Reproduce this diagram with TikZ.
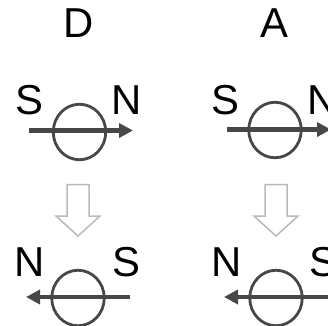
\documentclass[tikz,border=0pt]{standalone}
\usepackage{fontspec}
\setmainfont{Liberation Sans}
\usetikzlibrary{arrows.meta,shapes.geometric}
\tikzset{
  x=1bp,y=-1bp,
  lab/.style={inner sep=0pt,text=black,font=\fontsize{42}{42}\selectfont,anchor=base},
  ring/.style={ellipse,draw=black!72,line width=2.8bp,minimum width=52.5bp,minimum height=55.5bp,inner sep=0pt},
  needle/.style={draw=black!72,line width=4.6bp,-{Triangle[length=14bp,width=14bp]}},
  hollow/.style={draw=black!27,line width=1.5bp,fill=white,line join=miter}
}
\begin{document}
\begin{tikzpicture}
\useasboundingbox (0,0) rectangle (328,326);
\clip (0,0) rectangle (328,326);
% column titles
\node[lab] (d) at (79,37.5) {D};
\node[lab] (a) at (274.5,37.5) {A};
% top row
\node[ring] (c1) at (79.5,132) {};
\node[ring] (c2) at (275,130) {};
\node[lab] (s1) at (29.5,114.5) {S};
\node[lab] (n1) at (126.5,114.5) {N};
\node[lab] (s2) at (225.5,114.5) {S};
\node[lab] (n2) at (323,114.5) {N};
\coordinate (t1a) at (29.3,130.5);
\coordinate (t1b) at (133,130.5);
\coordinate (t2a) at (226.7,129.5);
\coordinate (t2b) at (331,129.5);
\draw[needle] (t1a) -- (t1b);
\draw[needle] (t2a) -- (t2b);
% hollow arrows
\draw[hollow] (67,184.5) -- (89,184.5) -- (89,216) -- (100,216) -- (78,236) -- (56,216) -- (67,216) -- cycle;
\draw[hollow] (265,184.5) -- (287,184.5) -- (287,216) -- (298,216) -- (276,236) -- (254,216) -- (265,216) -- cycle;
% bottom row
\node[ring] (c3) at (78,298) {};
\node[ring] (c4) at (276,298) {};
\node[lab] (n3) at (30,276.5) {N};
\node[lab] (s3) at (126,276.5) {S};
\node[lab] (n4) at (227,276.5) {N};
\node[lab] (s4) at (323.5,276.5) {S};
\coordinate (b1a) at (129.5,297);
\coordinate (b1b) at (26,297);
\coordinate (b2a) at (329,297);
\coordinate (b2b) at (224,297);
\draw[needle] (b1a) -- (b1b);
\draw[needle] (b2a) -- (b2b);
\end{tikzpicture}
\end{document}
